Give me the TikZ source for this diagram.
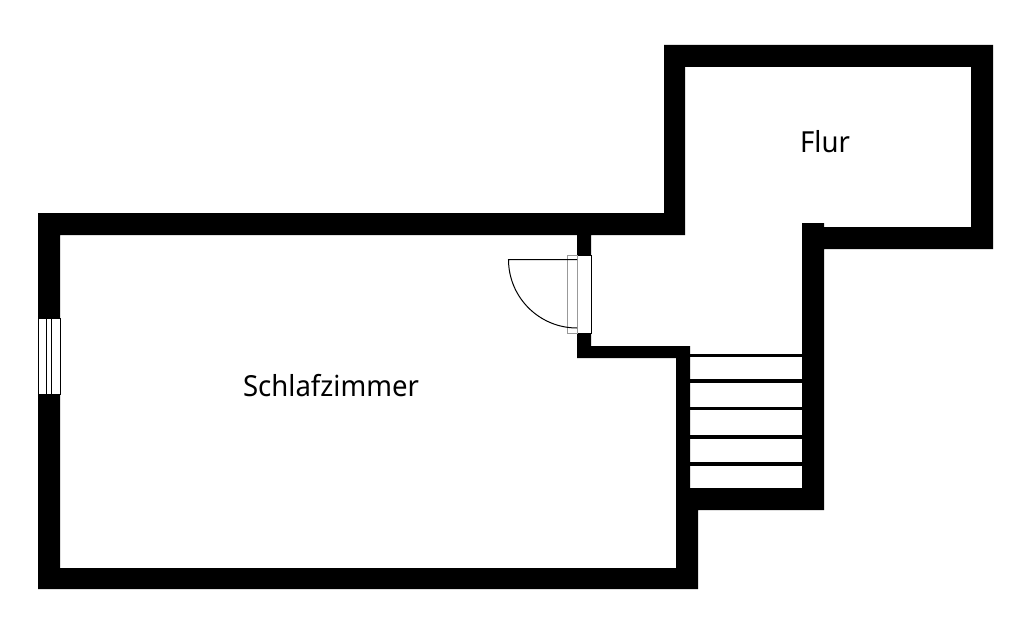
\documentclass[tikz,border=0pt]{standalone}
\usepackage{fontspec}
\setmainfont[FakeStretch=0.95]{Noto Sans}
\definecolor{doorgray}{rgb}{0.6, 0.6, 0.6}
\tikzset{
  wall/.style={fill=black, even odd rule},
  opening/.style={fill=white, draw=black, line width=1pt},
  tread/.style={draw=black, line width=3.5pt},
  roomlabel/.style={font=\fontsize{29}{34}\selectfont, inner sep=0pt}
}
\begin{document}
\begin{tikzpicture}[x=1pt, y=-1pt]
\useasboundingbox (0,0) rectangle (1028,623);
% walls: outer outline, then the two inner areas
\fill[wall] (664,45) -- (993,45) -- (993,249) -- (824,249) -- (824,510) -- (698,510) -- (698,589) -- (38,589) -- (38,213) -- (664,213) -- cycle
  (60,235) -- (577,235) -- (577,358) -- (676,358) -- (676,568) -- (60,568) -- cycle
  (685,67) -- (971,67) -- (971,227) -- (824,227) -- (824,223) -- (802,223) -- (802,488) -- (690,488) -- (690,346) -- (591,346) -- (591,235) -- (685,235) -- cycle;
% window
\draw[opening] (38,318) rectangle (60,394);
\draw[black, line width=1.5pt] (46.7,318)--(46.7,394);
\draw[black, line width=1.5pt] (51.3,318)--(51.3,394);
% door
\draw[opening] (577,255.5) rectangle (591,333);
\draw[doorgray, line width=0.8pt] (567.5,255.5) rectangle (577,333);
\draw[black, line width=1pt] (577,259.5)--(508.5,259.5) arc[start angle=180, end angle=90, x radius=68.5, y radius=68.5];
% stairs
\draw[tread] (690,355.5)--(802,355.5);
\draw[tread] (690,381)--(802,381);
\draw[tread] (690,408.7)--(802,408.7);
\draw[tread] (690,437)--(802,437);
\draw[tread] (690,464)--(802,464);
% rooms
\node[roomlabel] (flur) at (825,142) {Flur};
\node[roomlabel] (schlafzimmer) at (331,386) {Schlafzimmer};
\end{tikzpicture}
\end{document}
